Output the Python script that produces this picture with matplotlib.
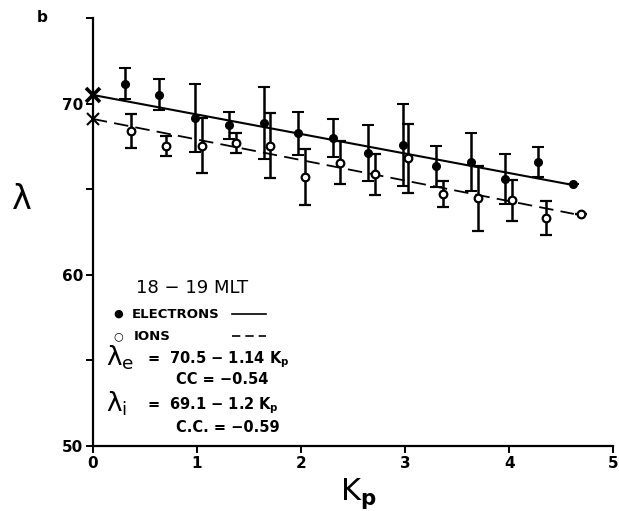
import matplotlib
matplotlib.use("Agg")
import matplotlib.pyplot as plt
import numpy as np

# Kp bins and mean invariant latitude (deg) with standard-deviation bars, 18-19 MLT
kp_e = [0.31, 0.64, 0.98, 1.31, 1.64, 1.975, 2.31, 2.64, 2.98, 3.30, 3.63, 3.96, 4.28, 4.615]
lam_e = [71.15, 70.52, 69.15, 68.72, 68.88, 68.27, 68.0, 67.11, 67.6, 66.34, 66.59, 65.6, 66.59, 65.29]
err_e = [0.9, 0.9, 2.0, 0.8, 2.1, 1.25, 1.1, 1.65, 2.4, 1.2, 1.7, 1.45, 0.87, 0.0]

kp_i = [0.37, 0.706, 1.05, 1.374, 1.705, 2.04, 2.37, 2.71, 3.03, 3.365, 3.70, 4.03, 4.35, 4.685]
lam_i = [68.39, 67.52, 67.54, 67.7, 67.54, 65.72, 66.55, 65.87, 66.8, 64.7, 64.47, 64.35, 63.33, 63.57]
err_i = [1.0, 0.6, 1.6, 0.6, 1.9, 1.65, 1.25, 1.2, 2.0, 0.75, 1.9, 1.2, 1.0, 0.0]

# Linear fits: lambda = a - b * Kp
fit_e = (70.5, 1.14)
fit_i = (69.1, 1.2)
fit_end_e = 4.6
fit_end_i = 4.62

x_ticks = [0, 1, 2, 3, 4, 5]
y_ticks = [50, 60, 70]
y_minor = [55, 65, 75]

fig = plt.figure(figsize=(6.19, 5.11), dpi=100)
ax = fig.add_axes([0.150, 0.127, 0.841, 0.838])

ax.set_xlim(0, 5)
ax.set_ylim(50, 75)

for s in ("top", "right"):
    ax.spines[s].set_visible(False)
for s in ("left", "bottom"):
    ax.spines[s].set_linewidth(1.6)
    ax.spines[s].set_color("black")

ax.set_xticks(x_ticks)
ax.set_yticks(y_ticks)
ax.set_yticks(y_minor, minor=True)
ax.set_xticklabels([str(t) for t in x_ticks])
ax.set_yticklabels([str(t) for t in y_ticks])
ax.tick_params(axis="both", which="both", direction="out", length=5, width=1.4,
               labelsize=11, pad=2)
for lbl in ax.get_xticklabels() + ax.get_yticklabels():
    lbl.set_fontweight("bold")

# fitted lines
xe = np.array([0, fit_end_e])
xi = np.array([0, fit_end_i])
ax.plot(xe, fit_e[0] - fit_e[1] * xe, color="black", lw=1.5, zorder=2)
ax.plot(xi, fit_i[0] - fit_i[1] * xi, color="black", lw=1.3, ls=(0, (8, 4)), zorder=2)

# intercept crosses at Kp = 0
ax.plot([0], [fit_e[0]], marker="x", ms=10, mew=2.6, color="black", clip_on=False, zorder=4)
ax.plot([0], [fit_i[0]], marker="x", ms=9, mew=1.5, color="black", clip_on=False, zorder=4)

# electrons: filled circles with error bars
ax.errorbar(kp_e, lam_e, yerr=err_e, fmt="o", color="black", ms=5.5, mfc="black",
            mec="black", elinewidth=1.8, capsize=4, capthick=1.5, zorder=3)
# ions: open circles with error bars
ax.errorbar(kp_i, lam_i, yerr=err_i, fmt="o", color="black", ms=5.5, mfc="white",
            mec="black", mew=1.6, elinewidth=1.8, capsize=4, capthick=1.5, zorder=3)

# axis labels
fig.text(0.036, 0.61, "λ", fontsize=24, ha="center", va="center")
fig.text(0.578, 0.022, r"K$_\mathbf{p}$", fontsize=22, ha="center", va="baseline")
fig.text(0.068, 0.965, "b", fontsize=11, fontweight="bold", ha="center", va="center")


def px(x, y):
    # figure pixel position to figure fraction
    return x / 619, 1 - y / 511


def t(x, y, s, **kw):
    fx, fy = px(x, y)
    fig.text(fx, fy, s, va="center", **kw)


# annotation block: legend and regression equations
t(136, 288, "18 − 19 MLT", fontsize=13)
t(113, 314, "●", fontsize=8)
t(132, 314, "ELECTRONS", fontsize=9.5, fontweight="bold")
t(113, 336, "○", fontsize=8, fontweight="bold")
t(134, 336, "IONS", fontsize=9.5, fontweight="bold")
lx0, lx1 = 232 / 619, 266 / 619
fig.add_artist(plt.Line2D([lx0, lx1], [1 - 314 / 511] * 2, color="black", lw=1.2))
fig.add_artist(plt.Line2D([lx0, lx1], [1 - 336 / 511] * 2, color="black", lw=1.2,
                          ls=(0, (5, 3))))
t(106, 358, r"λ$_\mathregular{e}$", fontsize=19)
t(147, 360, "=  70.5 − 1.14 K$_\\mathbf{p}$", fontsize=10.5, fontweight="bold")
t(176, 379, "CC = −0.54", fontsize=10.5, fontweight="bold")
t(106, 404, r"λ$_\mathregular{i}$", fontsize=19)
t(147, 406, "=  69.1 − 1.2 K$_\\mathbf{p}$", fontsize=10.5, fontweight="bold")
t(176, 427, "C.C. = −0.59", fontsize=10.5, fontweight="bold")

fig.savefig("out.png", dpi=100)
